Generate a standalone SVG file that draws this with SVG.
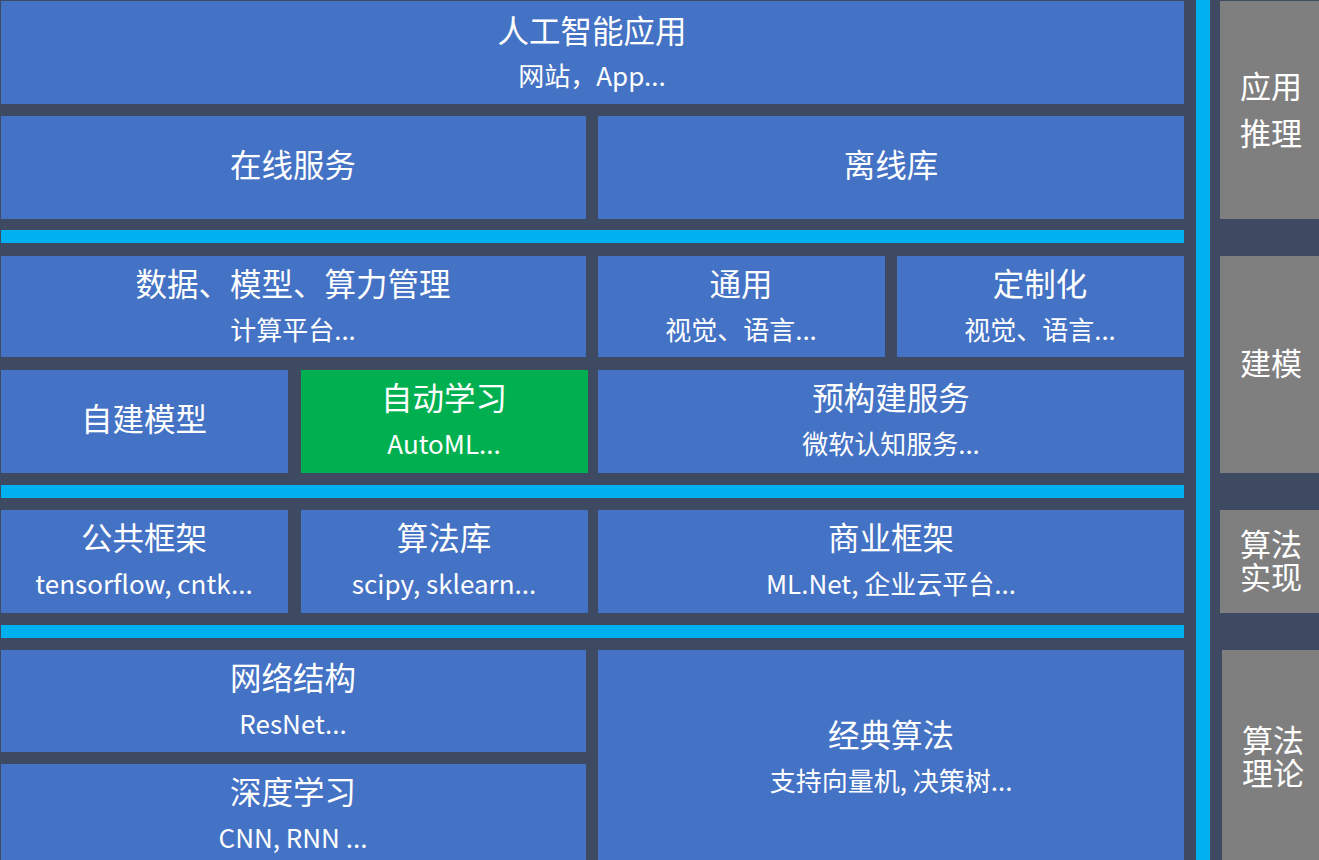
<svg xmlns="http://www.w3.org/2000/svg" width="1319" height="860" viewBox="0 0 1319 860">
<style>
.bg{fill:#3d4a61}
.b{fill:#4472c4}
.g{fill:#00b050}
.gr{fill:#7f7f7f}
.c{fill:#00b0f0}
text{fill:#ffffff;font-family:"Noto Sans CJK SC","Noto Sans",sans-serif;text-anchor:middle}
.t{font-size:31.5px}
.s{font-size:26px}
.r{font-size:31px}
</style>
<rect class="bg" x="0" y="0" width="1319" height="860"/>
<g id="bars">
<rect class="c" x="1" y="230" width="1183" height="13"/>
<rect class="c" x="1" y="485" width="1183" height="13"/>
<rect class="c" x="1" y="625" width="1183" height="13"/>
<rect class="c" x="1196" y="0" width="14" height="860"/>
</g>
<g id="n-app"><rect class="b" x="1" y="1" width="1183" height="103"/><text class="t" x="592" y="43">人工智能应用</text><text class="s" x="592" y="86">网站，App...</text></g>
<g id="n-online"><rect class="b" x="1" y="116" width="585" height="103"/><text class="t" x="293" y="177">在线服务</text></g>
<g id="n-offline"><rect class="b" x="598" y="116" width="586" height="103"/><text class="t" x="891" y="177">离线库</text></g>
<g id="n-data"><rect class="b" x="1" y="256" width="585" height="101"/><text class="t" x="293" y="296">数据、模型、算力管理</text><text class="s" x="293" y="340">计算平台...</text></g>
<g id="n-general"><rect class="b" x="598" y="256" width="287" height="101"/><text class="t" x="741" y="296">通用</text><text class="s" x="741" y="340">视觉、语言...</text></g>
<g id="n-custom"><rect class="b" x="897" y="256" width="287" height="101"/><text class="t" x="1040" y="296">定制化</text><text class="s" x="1040" y="340">视觉、语言...</text></g>
<g id="n-self"><rect class="b" x="1" y="370" width="287" height="103"/><text class="t" x="144" y="431">自建模型</text></g>
<g id="n-automl"><rect class="g" x="301" y="370" width="287" height="103"/><text class="t" x="444" y="410">自动学习</text><text class="s" x="444" y="454">AutoML...</text></g>
<g id="n-prebuilt"><rect class="b" x="598" y="370" width="586" height="103"/><text class="t" x="891" y="410">预构建服务</text><text class="s" x="891" y="454">微软认知服务...</text></g>
<g id="n-public"><rect class="b" x="1" y="510" width="287" height="103"/><text class="t" x="144" y="550">公共框架</text><text class="s" x="144" y="594">tensorflow, cntk...</text></g>
<g id="n-lib"><rect class="b" x="301" y="510" width="287" height="103"/><text class="t" x="444" y="550">算法库</text><text class="s" x="444" y="594">scipy, sklearn...</text></g>
<g id="n-biz"><rect class="b" x="598" y="510" width="586" height="103"/><text class="t" x="891" y="550">商业框架</text><text class="s" x="891" y="594">ML.Net, 企业云平台...</text></g>
<g id="n-net"><rect class="b" x="1" y="650" width="585" height="102"/><text class="t" x="293" y="690">网络结构</text><text class="s" x="293" y="734">ResNet...</text></g>
<g id="n-deep"><rect class="b" x="1" y="764" width="585" height="96"/><text class="t" x="293" y="804">深度学习</text><text class="s" x="293" y="848">CNN, RNN ...</text></g>
<g id="n-classic"><rect class="b" x="598" y="650" width="586" height="210"/><text class="t" x="891" y="747">经典算法</text><text class="s" x="891" y="791">支持向量机, 决策树...</text></g>
<g id="l-infer"><rect class="gr" x="1220" y="1" width="99" height="218"/><text class="r" x="1271" y="98"><tspan x="1271">应用</tspan><tspan x="1271" dy="47">推理</tspan></text></g>
<g id="l-model"><rect class="gr" x="1220" y="256" width="99" height="217"/><text class="r" x="1271" y="375">建模</text></g>
<g id="l-impl"><rect class="gr" x="1220" y="510" width="99" height="103"/><text class="r" x="1271" y="556"><tspan x="1271">算法</tspan><tspan x="1271" dy="33">实现</tspan></text></g>
<g id="l-theory"><rect class="gr" x="1222" y="650" width="97" height="210"/><text class="r" x="1273" y="752"><tspan x="1273">算法</tspan><tspan x="1273" dy="33">理论</tspan></text></g>
</svg>
